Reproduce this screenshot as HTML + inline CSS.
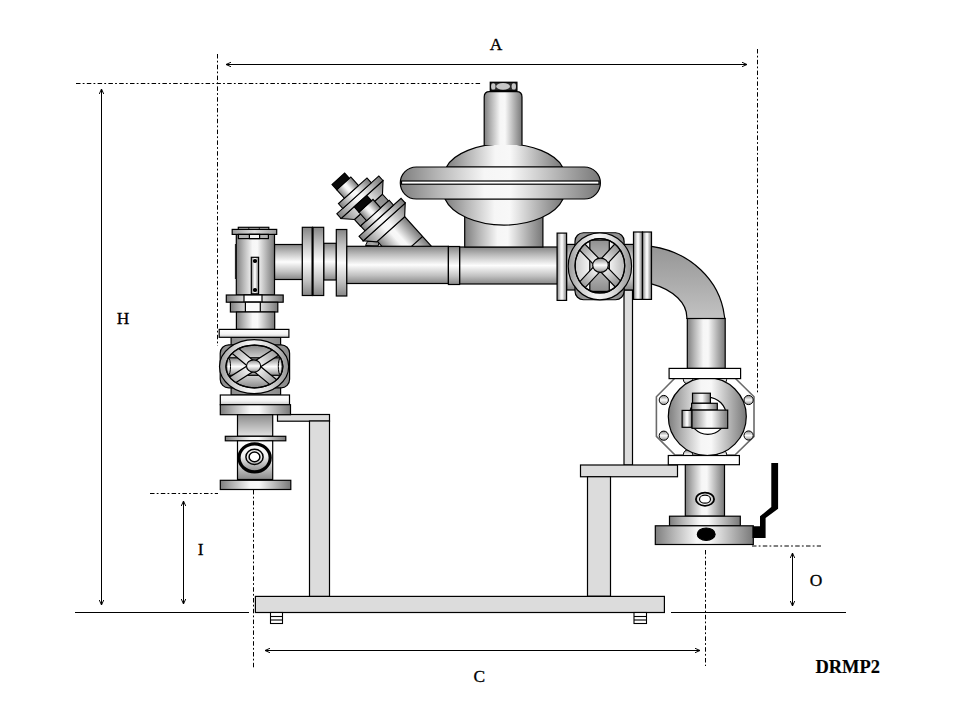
<!DOCTYPE html>
<html><head><meta charset="utf-8">
<style>
html,body{margin:0;padding:0;background:#fff;width:960px;height:720px;overflow:hidden;}
svg{display:block;}
text{font-family:"Liberation Serif",serif;}
</style></head><body>
<svg width="960" height="720" viewBox="0 0 960 720">
<defs>
<linearGradient id="cx" x1="0" y1="0" x2="1" y2="0">
<stop offset="0" stop-color="#7e7e7e"/><stop offset="0.18" stop-color="#b4b4b4"/><stop offset="0.42" stop-color="#f6f6f6"/><stop offset="0.55" stop-color="#f8f8f8"/><stop offset="0.82" stop-color="#aaaaaa"/><stop offset="1" stop-color="#787878"/>
</linearGradient>
<linearGradient id="cy" x1="0" y1="0" x2="0" y2="1">
<stop offset="0" stop-color="#858585"/><stop offset="0.22" stop-color="#bdbdbd"/><stop offset="0.5" stop-color="#fdfdfd"/><stop offset="0.78" stop-color="#c2c2c2"/><stop offset="1" stop-color="#878787"/>
</linearGradient>
<linearGradient id="elb" x1="0" y1="0" x2="0" y2="1">
<stop offset="0" stop-color="#959595"/><stop offset="1" stop-color="#c2c2c2"/>
</linearGradient>
<linearGradient id="dk" x1="0" y1="0" x2="1" y2="0">
<stop offset="0" stop-color="#8c8c8c"/><stop offset="0.5" stop-color="#a8a8a8"/><stop offset="1" stop-color="#8a8a8a"/>
</linearGradient>
<linearGradient id="wp" x1="0" y1="0" x2="0" y2="1">
<stop offset="0" stop-color="#ffffff"/><stop offset="0.6" stop-color="#f4f4f4"/><stop offset="1" stop-color="#c8c8c8"/>
</linearGradient>
<marker id="ah" viewBox="0 0 10 10" refX="9.5" refY="5" markerWidth="5.5" markerHeight="5.5" orient="auto-start-reverse" markerUnits="userSpaceOnUse">
<path d="M0.5,1 L9.5,5 L0.5,9" fill="none" stroke="#000" stroke-width="1.8"/>
</marker>
<linearGradient id="g2l" x1="0" y1="0" x2="0" y2="1"><stop offset="0" stop-color="#8c8c8c"/><stop offset="1" stop-color="#e2e2e2"/></linearGradient>
<linearGradient id="l2g" x1="0" y1="0" x2="0" y2="1"><stop offset="0" stop-color="#fdfdfd"/><stop offset="0.45" stop-color="#f0f0f0"/><stop offset="1" stop-color="#8a8a8a"/></linearGradient>
<linearGradient id="ring" x1="0" y1="0" x2="1" y2="0"><stop offset="0" stop-color="#9a9a9a"/><stop offset="0.2" stop-color="#d0d0d0"/><stop offset="0.45" stop-color="#f8f8f8"/><stop offset="0.7" stop-color="#dcdcdc"/><stop offset="1" stop-color="#939393"/></linearGradient>
<linearGradient id="inr" x1="0" y1="0" x2="1" y2="0"><stop offset="0" stop-color="#c8c8c8"/><stop offset="0.3" stop-color="#f6f6f6"/><stop offset="0.7" stop-color="#f0f0f0"/><stop offset="1" stop-color="#b8b8b8"/></linearGradient>
<linearGradient id="rb" x1="0" y1="0" x2="0" y2="1"><stop offset="0" stop-color="#909090"/><stop offset="0.5" stop-color="#c4c4c4"/><stop offset="1" stop-color="#8c8c8c"/></linearGradient>
<linearGradient id="lcap" x1="0" y1="0" x2="1" y2="0"><stop offset="0" stop-color="#9a9a9a"/><stop offset="0.5" stop-color="#dedede"/><stop offset="1" stop-color="#9a9a9a"/></linearGradient>
<clipPath id="cpR"><ellipse cx="599.9" cy="265.75" rx="24.8" ry="27.2"/></clipPath>
<clipPath id="cpL"><ellipse cx="254.4" cy="366.5" rx="28.45" ry="21.35"/></clipPath>
</defs>

<!-- DIMENSIONS -->
<g stroke="#000" stroke-width="1" fill="none">
<line x1="226" y1="64.5" x2="747" y2="64.5" marker-start="url(#ah)" marker-end="url(#ah)"/>
<line x1="101.5" y1="89" x2="101.5" y2="605" marker-start="url(#ah)" marker-end="url(#ah)"/>
<line x1="183.5" y1="501" x2="183.5" y2="604" marker-start="url(#ah)" marker-end="url(#ah)"/>
<line x1="792.5" y1="553" x2="792.5" y2="606" marker-start="url(#ah)" marker-end="url(#ah)"/>
<line x1="265" y1="650.5" x2="700" y2="650.5" marker-start="url(#ah)" marker-end="url(#ah)"/>
<line x1="75" y1="612.5" x2="249" y2="612.5"/>
<line x1="671" y1="612.5" x2="846" y2="612.5"/>
</g>
<g stroke="#000" stroke-width="1" fill="none" stroke-dasharray="4.5 2.2 1.8 2.3">
<line x1="76" y1="83.5" x2="482" y2="83.5"/>
<line x1="217.5" y1="54" x2="217.5" y2="346"/>
<line x1="757.5" y1="49" x2="757.5" y2="393"/>
<line x1="150" y1="493.5" x2="218" y2="493.5"/>
<line x1="253.5" y1="490" x2="253.5" y2="668"/>
<line x1="705.5" y1="550" x2="705.5" y2="666"/>
<line x1="752" y1="546" x2="821" y2="546"/>
</g>
<g font-size="17.4" fill="#000" stroke="#000" stroke-width="0.3">
<text x="489.8" y="50.2">A</text>
<text x="116.8" y="324.2">H</text>
<text x="197.8" y="555.2">I</text>
<text x="473.6" y="682.2">C</text>
<text x="809.7" y="586.2">O</text>
<text x="815.5" y="672.6" font-weight="bold" font-size="17.8" stroke-width="0.15" textLength="64.5" lengthAdjust="spacingAndGlyphs">DRMP2</text>
</g>

<!-- SUPPORTS -->
<g stroke="#000" stroke-width="1.2" fill="#dcdcdc">
<rect x="624" y="290" width="8.5" height="175"/>
<rect x="277.5" y="414.5" width="52" height="6.7"/>
<rect x="309.5" y="421" width="20" height="175.5"/>
<rect x="580.5" y="465" width="97" height="11.75"/>
<rect x="587.5" y="476.75" width="23" height="119.5"/>
<rect x="255.4" y="596.4" width="409" height="16.1"/>
</g>
<g stroke="#000" stroke-width="1.1" fill="#fff">
<rect x="270.5" y="612.5" width="12" height="11"/>
<line x1="270.5" y1="616.5" x2="282.5" y2="616.5"/>
<line x1="270.5" y1="620" x2="282.5" y2="620"/>
<rect x="634" y="612.5" width="12.5" height="11"/>
<line x1="634" y1="616.5" x2="646.5" y2="616.5"/>
<line x1="634" y1="620" x2="646.5" y2="620"/>
</g>

<!-- COMPONENTS -->
<!-- strainer -->
<path d="M365.5,245.5 L367.5,241.3 L376,240.3 L379,243 L378,246 Z" fill="url(#dk)" stroke="#000" stroke-width="1"/>
<g stroke="#000" stroke-width="1.1" transform="translate(332 184.5) rotate(-42)">
<rect x="-4.3" y="72.5" width="36.8" height="45" fill="url(#cx)"/>
<line x1="-4.3" y1="99.2" x2="32.5" y2="99.2"/>
<rect x="-6.7" y="41" width="37.7" height="9" fill="url(#dk)"/>
<g id="unit">
<path d="M-16,31.3 L40.5,31.3 L31,41 L-6.7,41 Z" fill="url(#cx)"/>
<rect x="-16" y="25" width="56.5" height="6.3" fill="url(#cx)"/>
<rect x="-8" y="18.5" width="38.4" height="6.5" fill="url(#cx)"/>
<rect x="0" y="7" width="19" height="11.5" fill="url(#cx)"/>
<rect x="0" y="0" width="17" height="7" fill="#0a0a0a"/>
</g>
<use href="#unit" transform="translate(1.5 31.5)"/>
</g>
<!-- main pipe -->
<g stroke="#000" stroke-width="1.2">
<rect x="274.5" y="244.5" width="28" height="35" fill="url(#cy)"/>
<rect x="323.7" y="243.3" width="12.6" height="36.7" fill="url(#cy)"/>
<rect x="302.3" y="227.3" width="10.2" height="68.2" fill="url(#cy)"/>
<rect x="312.5" y="227.3" width="11.2" height="68.2" fill="url(#cy)"/>
<rect x="336.3" y="229.5" width="10.5" height="66.5" fill="url(#cy)"/>
<line x1="312.6" y1="227.3" x2="312.6" y2="295.5" stroke-width="2"/>
<rect x="346.8" y="246.3" width="101.6" height="37.2" fill="url(#cy)"/>
<rect x="459.6" y="247" width="97.9" height="37" fill="url(#cy)"/>
<rect x="448.4" y="246.5" width="11.2" height="38" fill="url(#cy)"/>
</g>
<!-- regulator -->
<g stroke="#000" stroke-width="1.2">
<rect x="464.7" y="205" width="78.2" height="42" fill="url(#cx)"/>
<path d="M445,199 A61,35 0 0 0 563,199 Z" fill="url(#cx)"/>
<path d="M446.5,167 A60,31 0 0 1 562.5,167 Z" fill="url(#cx)"/>
<rect x="400.3" y="167" width="200.1" height="32" rx="16" ry="16" fill="url(#cx)"/>
<rect x="401.5" y="181" width="197.5" height="3.2" fill="#fff"/>
<path d="M484.2,145 L484.2,97 Q484.2,91.7 489.5,91.7 L516.7,91.7 Q522,91.7 522,97 L522,145" fill="url(#cx)"/>
<path d="M446.5,145.5 Q504,136 562.5,145.5" fill="none" stroke="none"/>
<rect x="490.3" y="82.3" width="26.6" height="8.4" fill="#2a2a2a" stroke-width="1.3"/>
<ellipse cx="503.1" cy="86.4" rx="6.9" ry="3.4" fill="#c6c6c6" stroke="none"/>
<ellipse cx="493.3" cy="86.4" rx="2.2" ry="3.2" fill="#c6c6c6" stroke="none"/>
<ellipse cx="513.8" cy="86.4" rx="2.2" ry="3.2" fill="#c6c6c6" stroke="none"/>
</g>
<!-- right valve -->
<g stroke="#000" stroke-width="1.2">
<rect x="566.6" y="244.4" width="67" height="45.6" fill="url(#cy)"/>
<rect x="557.1" y="233.1" width="9.5" height="67.3" fill="url(#cx)"/>
<rect x="575" y="232.75" width="49.1" height="67" rx="8.5" fill="url(#dk)"/>
<ellipse cx="599.9" cy="266.3" rx="31.7" ry="33.5" fill="url(#ring)"/>
<ellipse cx="599.9" cy="265.75" rx="24.8" ry="27.2" fill="url(#inr)"/>
<g clip-path="url(#cpR)">
<rect x="589.8" y="240.1" width="19.5" height="51.3" fill="url(#rb)"/>
<g transform="translate(600.2 265.6) rotate(-47)"><rect x="-32" y="-4" width="64" height="8" fill="url(#cx)"/></g>
<g transform="translate(600.2 265.6) rotate(46)"><rect x="-32" y="-4" width="64" height="8" fill="url(#cx)"/></g>
</g>
<ellipse cx="599.9" cy="265.75" rx="24.8" ry="27.2" fill="none"/>
<ellipse cx="600.5" cy="265.2" rx="7.8" ry="7.1" fill="url(#cy)"/>
<rect x="633.5" y="232" width="9" height="67.4" fill="url(#cx)"/>
<rect x="642.5" y="232" width="9" height="67.4" fill="url(#cx)"/>
</g>
<!-- elbow and lower valve -->
<g stroke="#000" stroke-width="1.2">
<path d="M651.5,246.3 A87,79.2 0 0 1 724.3,315.5 L724.8,318.5 L686.8,318.5 A58.4,36.5 0 0 0 651.5,283.8 Z" fill="url(#elb)"/>
<rect x="687.3" y="318.5" width="37.9" height="49.9" fill="url(#cx)"/>
<path d="M675,378 L735,378 L754,396.7 L754,436.4 L735,455 L675,455 L656.4,436.4 L656.4,396.7 Z" fill="#fff" stroke="#6a6a6a" stroke-width="1.6" stroke-linejoin="round"/>
<g fill="url(#cy)" stroke-width="1">
<circle cx="663.8" cy="400" r="4.6"/><circle cx="663.8" cy="435.7" r="4.6"/>
<circle cx="748.6" cy="400" r="4.6"/><circle cx="748.6" cy="435.5" r="4.6"/>
<circle cx="688" cy="379.5" r="4.6"/><circle cx="722" cy="379.5" r="4.6"/>
<circle cx="688" cy="454.5" r="4.6"/><circle cx="722" cy="454.5" r="4.6"/>
</g>
<circle cx="707.3" cy="416.6" r="39" fill="url(#cx)"/>
<circle cx="707.8" cy="415.8" r="18.5" fill="#fff"/>
<rect x="692.5" y="393.2" width="17.9" height="10.1" fill="url(#cx)"/>
<rect x="691.6" y="403.3" width="25.7" height="6.8" fill="url(#cx)"/>
<rect x="682.1" y="410.4" width="9.9" height="16.9" fill="url(#cx)"/>
<rect x="692" y="410.1" width="35.7" height="18.2" fill="url(#cx)"/>
<rect x="669.1" y="368.4" width="71.5" height="10.2" fill="#fff"/>
<rect x="668.3" y="455.5" width="71.1" height="9.2" fill="#fff"/>
<rect x="685.3" y="464.7" width="39.2" height="51.5" fill="url(#cx)"/>
<ellipse cx="705" cy="499.2" rx="9.1" ry="6.6" fill="none" stroke-width="1.8"/>
<ellipse cx="705" cy="499.2" rx="5.5" ry="4" fill="#fff" stroke-width="1.2"/>
<rect x="669.5" y="516.2" width="70.8" height="9.6" fill="url(#cx)"/>
<rect x="655.3" y="525.8" width="98" height="18.7" fill="url(#cx)"/>
<ellipse cx="706.2" cy="534.2" rx="8.9" ry="6.2" fill="#000"/>
<path d="M752.5,526.3 L760,526.3 L760,516.3 L771.3,507 L771.3,463.1 L778.1,463.1 L778.1,508.8 L765.6,518.1 L765.6,538.1 L752.5,538.1 Z" fill="#000" stroke="none"/>
</g>
<!-- left assembly -->
<g stroke="#000" stroke-width="1.2">
<rect x="231.1" y="337.3" width="49.5" height="57.7" fill="url(#dk)"/>
<rect x="236.3" y="234.4" width="38.2" height="60.6" fill="url(#cx)"/>
<rect x="238.3" y="227.3" width="30.5" height="2.1" fill="#d8d8d8"/>
<line x1="248.8" y1="227.3" x2="248.8" y2="229.4" stroke-width="0.8"/><line x1="259.3" y1="227.3" x2="259.3" y2="229.4" stroke-width="0.8"/>
<rect x="232.2" y="229.4" width="44.5" height="5" fill="url(#lcap)"/>
<rect x="238.4" y="234.4" width="30" height="4.2" fill="#b4b4b4"/>
<rect x="249.4" y="234.4" width="10.2" height="4.2" fill="#f4f4f4"/>
<rect x="234.9" y="244" width="1.4" height="35" fill="#222" stroke="none"/>
<rect x="251.3" y="257.3" width="7.3" height="36.5" fill="url(#cx)"/>
<circle cx="255" cy="261" r="1.5" fill="#000"/><circle cx="255" cy="290" r="1.5" fill="#000"/>
<rect x="226.3" y="295" width="56.9" height="7.2" fill="url(#cx)"/>
<rect x="244" y="295" width="18" height="7.2" fill="#fff"/>
<rect x="230.4" y="302.2" width="47.4" height="9.8" fill="url(#cx)"/>
<rect x="245.4" y="302.2" width="14.9" height="9.8" fill="#fafafa"/>
<rect x="236.4" y="312" width="38.3" height="17.4" fill="url(#cx)"/>
<rect x="219.2" y="329.4" width="69.7" height="7.9" fill="url(#wp)"/>
<rect x="220.2" y="344.8" width="69.4" height="43" rx="8.5" fill="url(#dk)"/>
<ellipse cx="254.1" cy="366.6" rx="34.6" ry="27" fill="url(#ring)"/>
<ellipse cx="254.4" cy="366.5" rx="28.45" ry="21.35" fill="url(#cy)"/>
<g clip-path="url(#cpL)">
<rect x="222" y="357.8" width="65" height="17.5" fill="url(#cy)"/>
<ellipse cx="228.6" cy="366.5" rx="1.9" ry="8.4" fill="none" stroke-width="1"/><ellipse cx="280.2" cy="366.5" rx="1.9" ry="8.4" fill="none" stroke-width="1"/>
<g transform="translate(254 366.3) rotate(39.5)"><rect x="-36" y="-4" width="72" height="8" fill="url(#cx)"/></g>
<g transform="translate(254 366.3) rotate(-32.5)"><rect x="-36" y="-4" width="72" height="8" fill="url(#cx)"/></g>
</g>
<ellipse cx="254.4" cy="366.5" rx="28.45" ry="21.35" fill="none"/>
<ellipse cx="253.6" cy="366" rx="7.1" ry="6.2" fill="url(#cy)"/>
<rect x="220.3" y="395" width="69.2" height="9.7" fill="url(#wp)"/>
<rect x="220.3" y="404.7" width="70.2" height="10" fill="url(#cx)"/>
<rect x="237.5" y="414.7" width="35.2" height="21.6" fill="url(#g2l)"/>
<rect x="225.3" y="436.3" width="60.5" height="4.5" fill="url(#cx)"/>
<rect x="237.5" y="440.8" width="35.2" height="38.7" fill="url(#l2g)"/>
<ellipse cx="254.6" cy="457.8" rx="15.6" ry="14" fill="url(#l2g)" stroke-width="3.2"/>
<ellipse cx="254.5" cy="456.9" rx="8.6" ry="7.6" fill="none" stroke-width="1.5"/>
<ellipse cx="254.5" cy="456.9" rx="5.4" ry="4.8" fill="#fff" stroke-width="1.5"/>
<rect x="220.3" y="480.3" width="70.5" height="9.2" fill="url(#cx)"/>
</g>
</svg>
</body></html>
